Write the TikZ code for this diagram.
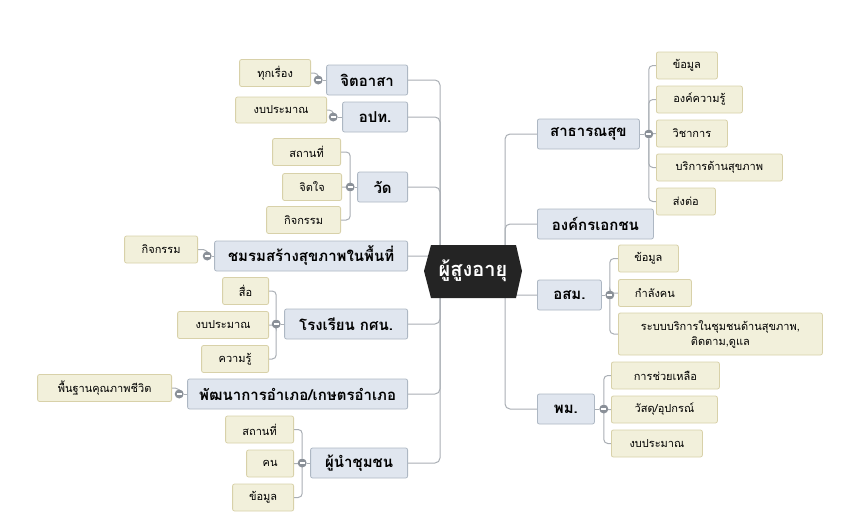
\documentclass[tikz,border=0pt]{standalone}
\usepackage{fontspec}
\newfontfamily\thai[Script=Thai]{Loma}
\usetikzlibrary{calc,backgrounds}
\definecolor{mainfill}{HTML}{E0E6EF}
\definecolor{mainline}{HTML}{ADB7C3}
\definecolor{subfill}{HTML}{F2F0DB}
\definecolor{subline}{HTML}{D8D1A9}
\definecolor{conn}{HTML}{A9AEB4}
\definecolor{togc}{HTML}{8A9098}
\definecolor{hexc}{HTML}{242424}
\tikzset{
  mainbox/.style={draw=mainline, fill=mainfill, rounded corners=2pt, line width=0.8pt,
    minimum height=30pt, inner sep=0pt, font=\thai\bfseries\fontsize{15}{17}\selectfont},
  subbox/.style={draw=subline, fill=subfill, rounded corners=2pt, line width=0.8pt,
    minimum height=27pt, inner sep=0pt, font=\thai\fontsize{11}{15}\selectfont},
  link/.style={draw=conn, line width=1pt, rounded corners=5pt},
  sublink/.style={draw=conn, line width=1pt, rounded corners=4pt},
  tog/.style={circle, fill=togc, minimum size=9pt, inner sep=0pt,
    path picture={\draw[white, line width=1.3pt]
      ([xshift=-2.6pt]path picture bounding box.center) --
      ([xshift=2.6pt]path picture bounding box.center);}},
}
\begin{document}
\begin{tikzpicture}[x=1pt, y=-1pt]
\useasboundingbox (0,0) rectangle (846,530);
% center hexagon
\fill[hexc] (424,271) -- (431,245) -- (516,245) -- (522,271) -- (516,298) -- (431,298) -- cycle;
\node[text=white, font=\thai\bfseries\fontsize{20}{22}\selectfont] (ctr) at (473,271) {ผู้สูงอายุ};
\coordinate (hubL) at (440,271);
\coordinate (hubR) at (505,271);

% left main nodes
\node[mainbox, anchor=east, minimum width=81pt]  (jit)  at (408,80)  {จิตอาสา};
\node[mainbox, anchor=east, minimum width=65pt]  (opt)  at (408,117) {อปท.};
\node[mainbox, anchor=east, minimum width=50pt]  (wat)  at (408,187) {วัด};
\node[mainbox, anchor=east, minimum width=193pt] (chom) at (408,256) {ชมรมสร้างสุขภาพในพื้นที่};
\node[mainbox, anchor=east, minimum width=123pt] (rong) at (408,324) {โรงเรียน กศน.};
\node[mainbox, anchor=east, minimum width=220pt] (pat)  at (408,394) {พัฒนาการอำเภอ/เกษตรอำเภอ};
\node[mainbox, anchor=east, minimum width=97pt]  (phu)  at (408,463) {ผู้นำชุมชน};

% right main nodes
\node[mainbox, anchor=west, minimum width=102pt] (sat) at (537,134) {สาธารณสุข};
\node[mainbox, anchor=west, minimum width=116pt] (ong) at (537,224) {องค์กรเอกชน};
\node[mainbox, anchor=west, minimum width=64pt]  (osm) at (537,295) {อสม.};
\node[mainbox, anchor=west, minimum width=57pt]  (pm)  at (537,409) {พม.};

% toggles
\node[tog] (tjit)  at ($(jit.west)+(-8,0)$) {};
\node[tog] (topt)  at ($(opt.west)+(-9,0)$) {};
\node[tog] (twat)  at ($(wat.west)+(-7,0)$) {};
\node[tog] (tchom) at ($(chom.west)+(-7,0)$) {};
\node[tog] (trong) at ($(rong.west)+(-8,0)$) {};
\node[tog] (tpat)  at ($(pat.west)+(-8,0)$) {};
\node[tog] (tphu)  at ($(phu.west)+(-8,0)$) {};
\node[tog] (tsat)  at ($(sat.east)+(9,0)$) {};
\node[tog] (tosm)  at ($(osm.east)+(8,0)$) {};
\node[tog] (tpm)   at ($(pm.east)+(9,0)$) {};

% left children
\node[subbox, anchor=east, minimum width=71pt] (jit1) at (311,73) {ทุกเรื่อง};
\node[subbox, anchor=east, minimum width=91pt, minimum height=26pt] (opt1) at (327,110) {งบประมาณ};
\node[subbox, anchor=east, minimum width=68pt] (wat1) at (341,152) {สถานที่};
\node[subbox, anchor=east, minimum width=59pt] (wat2) at (342,187) {จิตใจ};
\node[subbox, anchor=east, minimum width=74pt] (wat3) at (341,220) {กิจกรรม};
\node[subbox, anchor=east, minimum width=73pt] (chom1) at (198,249.5) {กิจกรรม};
\node[subbox, anchor=east, minimum width=46pt] (rong1) at (269,291) {สื่อ};
\node[subbox, anchor=east, minimum width=91pt] (rong2) at (269,325) {งบประมาณ};
\node[subbox, anchor=east, minimum width=67pt] (rong3) at (269,359) {ความรู้};
\node[subbox, anchor=east, minimum width=134pt] (pat1) at (172,388) {พื้นฐานคุณภาพชีวิต};
\node[subbox, anchor=east, minimum width=68pt] (phu1) at (294,429.5) {สถานที่};
\node[subbox, anchor=east, minimum width=47pt] (phu2) at (294,463.5) {คน};
\node[subbox, anchor=east, minimum width=61pt] (phu3) at (294,497.5) {ข้อมูล};

% right children
\node[subbox, anchor=west, minimum width=61pt]  (sat1) at (656,65.5)  {ข้อมูล};
\node[subbox, anchor=west, minimum width=86pt]  (sat2) at (656,99.5)  {องค์ความรู้};
\node[subbox, anchor=west, minimum width=71pt]  (sat3) at (656,133.5) {วิชาการ};
\node[subbox, anchor=west, minimum width=126pt] (sat4) at (656,167.5) {บริการด้านสุขภาพ};
\node[subbox, anchor=west, minimum width=59pt]  (sat5) at (656,201.5) {ส่งต่อ};
\node[subbox, anchor=west, minimum width=60pt]  (osm1) at (618,258.5) {ข้อมูล};
\node[subbox, anchor=west, minimum width=73pt]  (osm2) at (618,293)   {กำลังคน};
\node[subbox, anchor=west, minimum width=204pt, minimum height=42pt, align=center] (osm3) at (618,334) {ระบบบริการในชุมชนด้านสุขภาพ,\\ติดตาม,ดูแล};
\node[subbox, anchor=west, minimum width=108pt] (pm1) at (611,375.5) {การช่วยเหลือ};
\node[subbox, anchor=west, minimum width=106pt] (pm2) at (611,409.5) {วัสดุ/อุปกรณ์};
\node[subbox, anchor=west, minimum width=91pt]  (pm3) at (611,443.5) {งบประมาณ};

\begin{scope}[on background layer]
  % trunks
  \foreach \n in {jit,opt,wat,chom,rong,pat,phu} \draw[link] (\n.east) -| (hubL);
  \foreach \n in {sat,ong,osm,pm} \draw[link] (\n.west) -| (hubR);
  % parent to toggle
  \foreach \n in {jit,opt,wat,chom,rong,pat,phu} \draw[sublink] (\n.west) -- (t\n);
  \foreach \n in {sat,osm,pm} \draw[sublink] (\n.east) -- (t\n);
  % children
  \draw[sublink] (jit1.east) -| (tjit);
  \draw[sublink] (opt1.east) -| (topt);
  \foreach \c in {wat1,wat2,wat3} \draw[sublink] (\c.east) -| (twat);
  \draw[sublink] (chom1.east) -| (tchom);
  \foreach \c in {rong1,rong2,rong3} \draw[sublink] (\c.east) -| (trong);
  \draw[sublink] (pat1.east) -| (tpat);
  \foreach \c in {phu1,phu2,phu3} \draw[sublink] (\c.east) -| (tphu);
  \foreach \c in {sat1,sat2,sat3,sat4,sat5} \draw[sublink] (\c.west) -| (tsat);
  \foreach \c in {osm1,osm2,osm3} \draw[sublink] (\c.west) -| (tosm);
  \foreach \c in {pm1,pm2,pm3} \draw[sublink] (\c.west) -| (tpm);
\end{scope}
\end{tikzpicture}
\end{document}
